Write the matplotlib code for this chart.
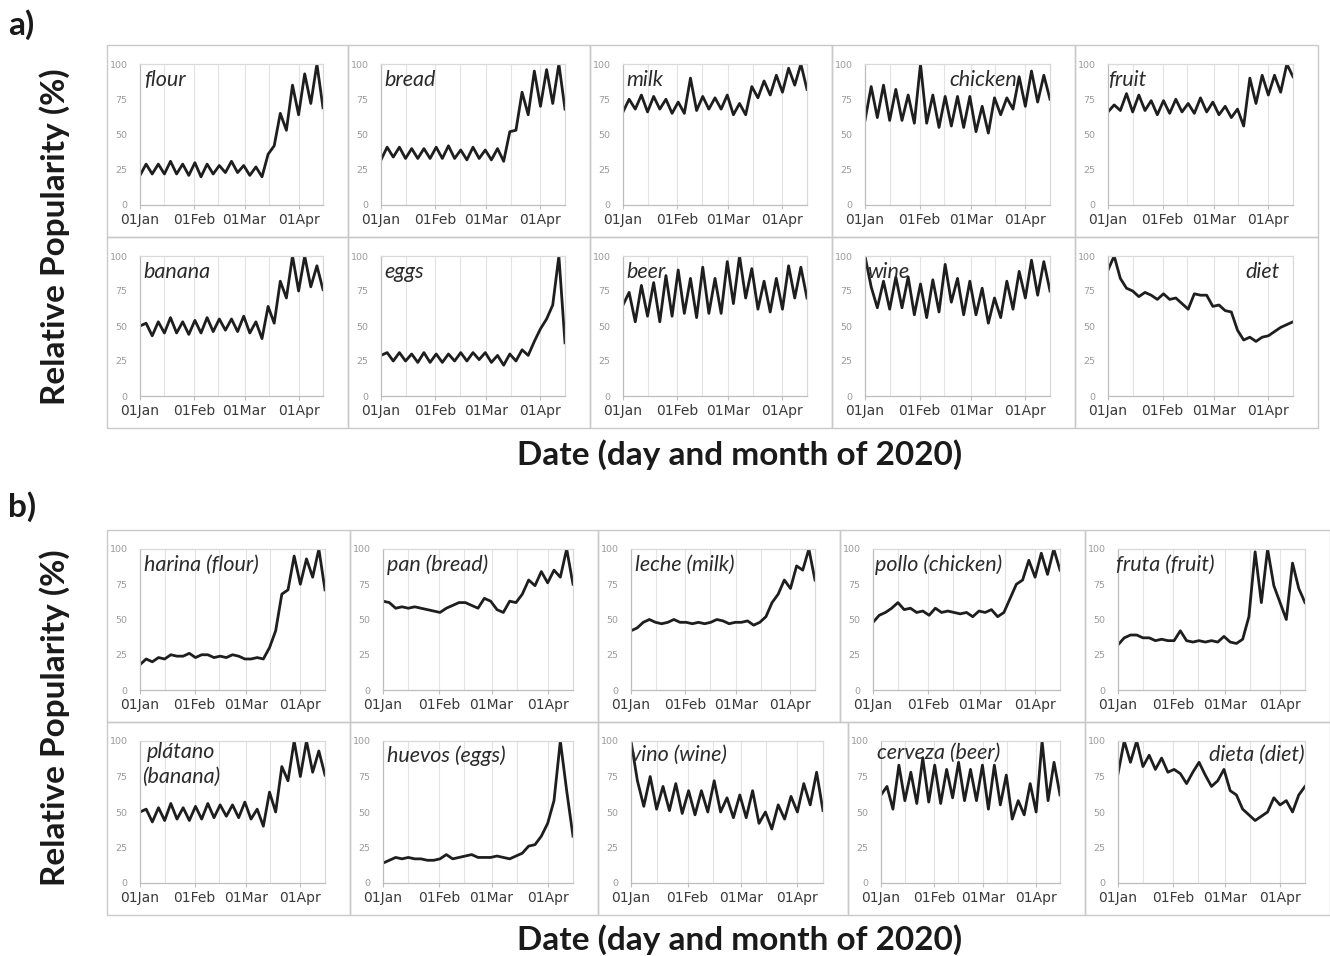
import numpy as np
import matplotlib.pyplot as plt
from matplotlib.patches import Rectangle

# Google-Trends style relative popularity, one value every 3.5 days from 01 Jan 2020
days = np.arange(31) * 3.5

# panel a) English searches
flour = [21, 29, 22, 29, 22, 31, 22, 29, 21, 30, 20, 29, 22, 28, 23, 31, 23, 28, 21, 27, 20, 36, 42, 65, 53, 85, 64, 93, 72, 100, 69]
bread = [32, 41, 34, 41, 33, 40, 33, 40, 33, 41, 33, 42, 33, 39, 32, 41, 33, 39, 32, 40, 31, 52, 53, 80, 64, 95, 70, 96, 72, 100, 68]
milk = [66, 75, 68, 78, 66, 77, 68, 75, 65, 73, 65, 90, 67, 77, 68, 76, 68, 78, 64, 72, 64, 84, 76, 88, 78, 92, 80, 97, 85, 100, 82]
chicken = [60, 84, 62, 85, 60, 82, 60, 78, 58, 100, 58, 78, 55, 77, 56, 77, 55, 77, 52, 70, 51, 76, 64, 76, 68, 91, 70, 95, 73, 92, 75]
fruit = [66, 71, 67, 79, 66, 78, 67, 74, 64, 74, 65, 75, 66, 72, 65, 76, 66, 73, 64, 70, 62, 68, 56, 90, 72, 92, 78, 92, 80, 100, 91]
banana = [50, 52, 43, 53, 45, 56, 45, 53, 44, 54, 45, 56, 46, 55, 47, 55, 46, 57, 45, 53, 41, 64, 52, 82, 70, 100, 75, 100, 78, 93, 76]
eggs = [29, 31, 25, 31, 25, 30, 24, 31, 24, 30, 24, 30, 25, 31, 25, 31, 26, 31, 24, 29, 22, 30, 25, 33, 29, 39, 48, 55, 65, 100, 38]
beer = [65, 74, 53, 79, 57, 81, 53, 86, 57, 90, 59, 84, 56, 92, 59, 84, 59, 96, 66, 100, 70, 91, 62, 82, 60, 84, 62, 93, 70, 92, 70]
wine = [100, 78, 63, 82, 62, 85, 63, 85, 58, 80, 56, 83, 60, 94, 67, 84, 58, 82, 58, 77, 52, 70, 56, 82, 62, 89, 70, 97, 72, 96, 75]
diet = [90, 100, 84, 77, 75, 71, 74, 72, 69, 73, 69, 70, 66, 62, 73, 72, 72, 64, 65, 61, 60, 47, 40, 42, 39, 42, 43, 46, 49, 51, 53]

# panel b) Spanish searches
harina = [18, 22, 20, 23, 22, 25, 24, 24, 26, 23, 25, 25, 23, 24, 23, 25, 24, 22, 22, 23, 22, 30, 42, 68, 71, 95, 75, 93, 80, 100, 71]
pan = [63, 62, 58, 59, 58, 59, 58, 57, 56, 55, 58, 60, 62, 62, 60, 58, 65, 63, 57, 55, 63, 62, 68, 78, 74, 84, 76, 85, 80, 100, 75]
leche = [42, 44, 48, 50, 48, 47, 48, 50, 48, 48, 47, 48, 47, 48, 50, 49, 47, 48, 48, 49, 46, 48, 52, 62, 68, 78, 72, 88, 85, 100, 78]
pollo = [48, 53, 55, 58, 62, 57, 58, 55, 56, 53, 58, 55, 56, 55, 54, 55, 52, 56, 55, 57, 52, 55, 65, 75, 78, 92, 80, 97, 82, 100, 85]
fruta = [32, 37, 39, 39, 37, 37, 35, 36, 35, 35, 42, 35, 34, 35, 34, 35, 34, 38, 34, 33, 36, 52, 98, 62, 100, 74, 62, 50, 90, 72, 62]
platano = [50, 52, 43, 53, 44, 56, 45, 53, 44, 54, 45, 56, 46, 55, 47, 55, 46, 57, 45, 52, 40, 64, 50, 82, 72, 100, 75, 100, 78, 93, 76]
huevos = [14, 16, 18, 17, 18, 17, 17, 16, 16, 17, 20, 17, 18, 19, 20, 18, 18, 18, 19, 18, 17, 19, 21, 26, 27, 33, 42, 58, 100, 65, 33]
vino = [100, 72, 54, 75, 52, 68, 51, 70, 49, 65, 48, 65, 50, 72, 50, 60, 46, 62, 46, 65, 42, 50, 38, 55, 45, 61, 50, 70, 55, 78, 51]
cerveza = [62, 68, 52, 83, 58, 78, 56, 88, 57, 83, 56, 80, 60, 85, 58, 80, 58, 83, 52, 83, 55, 76, 45, 58, 48, 70, 50, 100, 58, 85, 62]
dieta = [77, 100, 85, 100, 82, 90, 80, 88, 78, 80, 77, 70, 78, 85, 76, 68, 72, 80, 65, 62, 52, 48, 44, 47, 50, 60, 55, 58, 50, 62, 68]

month_days = [0, 31, 60, 91]
month_labels = ['01Jan', '01Feb', '01Mar', '01Apr']
grid_days = [14, 31, 45, 60, 74, 91]
y_ticks = [0, 25, 50, 75, 100]

W, H = 1330, 956
fig = plt.figure(figsize=(W / 100, H / 100), dpi=100)

tick_font = ['Liberation Sans Narrow', 'DejaVu Sans']
label_font = ['Lato', 'DejaVu Sans']


def panel(x0, x1, y0, y1, values, name, lx=0.02, ha='left', ly=0.96):
    # outer frame of the pasted chart
    fig.add_artist(Rectangle((x0 / W, 1 - y1 / H), (x1 - x0) / W, (y1 - y0) / H,
                             transform=fig.transFigure, fill=False,
                             ec='#c9c9c9', lw=1.0))
    ax = fig.add_axes([(x0 + 33) / W, 1 - (y1 - 32) / H,
                       (x1 - x0 - 58) / W, (y1 - y0 - 51) / H])
    ax.plot(days, values, color='#1e1e1e', lw=2.0, solid_joinstyle='round')
    ax.set_xlim(0, 105)
    ax.set_ylim(0, 100)
    for d in grid_days:
        ax.axvline(d, color='#e3e3e3', lw=0.8, zorder=0)
    ax.set_xticks(month_days)
    ax.set_xticklabels(month_labels, fontsize=10, color='#3a3a3a', family=tick_font)
    ax.set_yticks(y_ticks)
    ax.set_yticklabels([str(v) for v in y_ticks], fontsize=6.8, color='#9a9a9a',
                       family=tick_font)
    ax.tick_params(axis='x', length=3, color='#bfbfbf', pad=3)
    ax.tick_params(axis='y', length=0, pad=9)
    for side in ['left', 'bottom']:
        ax.spines[side].set_color('#bdbdbd')
    for side in ['top', 'right']:
        ax.spines[side].set_color('#d9d9d9')
    for s in ax.spines.values():
        s.set_linewidth(0.9)
    ax.text(lx, ly, name, transform=ax.transAxes, ha=ha, va='top',
            fontsize=15.5, style='italic', color='#2b2b2b', family=label_font,
            multialignment='center', linespacing=1.3)
    return ax


# a) top row
panel(107, 348, 45, 237, flour, 'flour', 0.02)
panel(348, 590, 45, 237, bread, 'bread', 0.02)
panel(590, 832, 45, 237, milk, 'milk', 0.02)
panel(832, 1075, 45, 237, chicken, 'chicken', 0.82, 'right')
panel(1075, 1318, 45, 237, fruit, 'fruit', 0.0)
# a) bottom row
panel(107, 348, 237, 428, banana, 'banana', 0.02)
panel(348, 590, 237, 428, eggs, 'eggs', 0.02)
panel(590, 832, 237, 428, beer, 'beer', 0.02)
panel(832, 1075, 237, 428, wine, 'wine', 0.01)
panel(1075, 1318, 237, 428, diet, 'diet', 0.93, 'right')
# b) top row
panel(107, 350, 530, 722, harina, 'harina (flour)', 0.02)
panel(350, 598, 530, 722, pan, 'pan (bread)', 0.02)
panel(598, 840, 530, 722, leche, 'leche (milk)', 0.02)
panel(840, 1085, 530, 722, pollo, 'pollo (chicken)', 0.01)
panel(1085, 1330, 530, 722, fruta, 'fruta (fruit)', -0.01)
# b) bottom row
panel(107, 350, 722, 915, platano, 'plátano\n(banana)', 0.01, ly=0.99)
panel(350, 598, 722, 915, huevos, 'huevos (eggs)', 0.02, ly=0.97)
panel(598, 848, 722, 915, vino, 'vino (wine)', 0.0, ly=0.97)
panel(848, 1085, 722, 915, cerveza, 'cerveza (beer)', -0.02, ly=0.99)
panel(1085, 1330, 722, 915, dieta, 'dieta (diet)', 0.995, 'right', ly=0.97)

big = dict(fontsize=24, fontweight='bold', color='#1a1a1a', family=label_font)
fig.text(8 / W, 1 - 25 / H, 'a)', ha='left', va='center', **big)
fig.text(8 / W, 1 - 507 / H, 'b)', ha='left', va='center', **big)
fig.text(55 / W, 1 - 237 / H, 'Relative Popularity (%)', rotation=90,
         ha='center', va='center', **big)
fig.text(55 / W, 1 - 718 / H, 'Relative Popularity (%)', rotation=90,
         ha='center', va='center', **big)
fig.text(740 / W, 1 - 455 / H, 'Date (day and month of 2020)',
         ha='center', va='center', **big)
fig.text(740 / W, 1 - 940 / H, 'Date (day and month of 2020)',
         ha='center', va='center', **big)

fig.savefig('out.png', dpi=100)
